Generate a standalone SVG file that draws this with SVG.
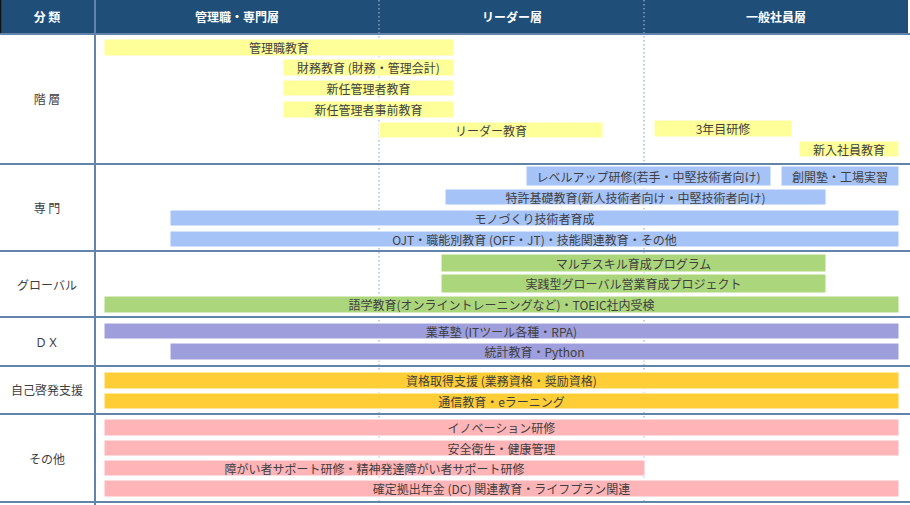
<svg xmlns="http://www.w3.org/2000/svg" width="910" height="505" viewBox="0 0 910 505">
<style>
text{font-family:"Noto Sans CJK JP","Noto Sans",sans-serif;font-size:12px;fill:#3f3f3f;text-anchor:middle;dominant-baseline:central}
.hd{fill:#ffffff;font-weight:bold}
.bar rect{stroke:#ffffff;stroke-width:1}
.y rect{fill:#ffff99}
.b rect{fill:#a6c3f8}
.g rect{fill:#abd67c}
.p rect{fill:#9e9edc}
.o rect{fill:#ffce36}
.k rect{fill:#ffb4b8}
.hl{stroke:#6283aa;stroke-width:2}
.dot{stroke:#9cb0cc;stroke-width:1.2;stroke-dasharray:1.5 2.5}
</style>
<rect width="910" height="505" fill="#ffffff"/>
<g id="header">
<rect x="0" y="0" width="908" height="33" fill="#1f4e79"/>
<line x1="0.5" y1="0" x2="0.5" y2="33" stroke="#111" stroke-width="1.5"/>
<text class="hd" x="47" y="16.5">分 類</text>
<text class="hd" x="237" y="16.5">管理職・専門層</text>
<text class="hd" x="512" y="16.5">リーダー層</text>
<text class="hd" x="776" y="16.5">一般社員層</text>
</g>
<g id="grid">
<line class="dot" x1="379" y1="0" x2="379" y2="503"/>
<line class="dot" x1="644" y1="0" x2="644" y2="503"/>
<line x1="95" y1="0" x2="95" y2="505" stroke="#6283aa" stroke-width="2"/>
<line class="hl" x1="0" y1="34" x2="910" y2="34" stroke-width="1"/>
<line class="hl" x1="0" y1="164" x2="910" y2="164"/>
<line class="hl" x1="0" y1="251" x2="910" y2="251"/>
<line class="hl" x1="0" y1="317" x2="910" y2="317"/>
<line class="hl" x1="0" y1="366" x2="910" y2="366"/>
<line class="hl" x1="0" y1="414" x2="910" y2="414"/>
<line class="hl" x1="0" y1="502" x2="910" y2="502"/>
</g>
<g id="labels">
<text x="47" y="98">階 層</text>
<text x="47" y="207">専 門</text>
<text x="47" y="284">グローバル</text>
<text x="47" y="341">ＤＸ</text>
<text x="47" y="389">自己啓発支援</text>
<text x="47" y="458">その他</text>
</g>
<g id="kaiso" class="bar y">
<g id="n1"><rect x="104" y="39" width="350" height="17"/><text x="279" y="47.5">管理職教育</text></g>
<g id="n2"><rect x="283" y="59" width="171" height="17"/><text x="368.5" y="67.5">財務教育 (財務・管理会計)</text></g>
<g id="n3"><rect x="283" y="80" width="171" height="16"/><text x="368.5" y="88">新任管理者教育</text></g>
<g id="n4"><rect x="283" y="101" width="171" height="17"/><text x="368.5" y="109.5">新任管理者事前教育</text></g>
<g id="n5"><rect x="379" y="122" width="224" height="16"/><text x="491" y="130">リーダー教育</text></g>
<g id="n6"><rect x="654" y="120" width="138" height="17"/><text x="723" y="128.5">3年目研修</text></g>
<g id="n7"><rect x="799" y="141" width="100" height="16"/><text x="849" y="149">新入社員教育</text></g>
</g>
<g id="senmon" class="bar b">
<g id="n8"><rect x="526" y="166" width="245" height="20"/><text x="648.5" y="176">レベルアップ研修(若手・中堅技術者向け)</text></g>
<g id="n9"><rect x="781" y="166" width="118" height="20"/><text x="840" y="176">創開塾・工場実習</text></g>
<g id="n10"><rect x="445" y="189" width="381" height="16"/><text x="635.5" y="197">特許基礎教育(新人技術者向け・中堅技術者向け)</text></g>
<g id="n11"><rect x="170" y="210" width="729" height="16"/><text x="534.5" y="218">モノづくり技術者育成</text></g>
<g id="n12"><rect x="170" y="231" width="729" height="16"/><text x="534.5" y="239">OJT・職能別教育 (OFF・JT)・技能関連教育・その他</text></g>
</g>
<g id="global" class="bar g">
<g id="n13"><rect x="441" y="254" width="385" height="18"/><text x="633.5" y="263">マルチスキル育成プログラム</text></g>
<g id="n14"><rect x="441" y="274" width="385" height="19"/><text x="633.5" y="283.5">実践型グローバル営業育成プロジェクト</text></g>
<g id="n15"><rect x="104" y="296" width="795" height="17"/><text x="501.5" y="304.5">語学教育(オンライントレーニングなど)・TOEIC社内受検</text></g>
</g>
<g id="dx" class="bar p">
<g id="n16"><rect x="104" y="323" width="795" height="16"/><text x="501.5" y="331">業革塾 (ITツール各種・RPA)</text></g>
<g id="n17"><rect x="170" y="343" width="729" height="17"/><text x="534.5" y="351.5">統計教育・Python</text></g>
</g>
<g id="jiko" class="bar o">
<g id="n18"><rect x="104" y="372" width="795" height="17"/><text x="501.5" y="380.5">資格取得支援 (業務資格・奨励資格)</text></g>
<g id="n19"><rect x="104" y="393" width="795" height="16"/><text x="501.5" y="401">通信教育・eラーニング</text></g>
</g>
<g id="sonota" class="bar k">
<g id="n20"><rect x="104" y="419" width="795" height="17"/><text x="501.5" y="427.5">イノベーション研修</text></g>
<g id="n21"><rect x="104" y="440" width="795" height="16"/><text x="501.5" y="448">安全衛生・健康管理</text></g>
<g id="n22"><rect x="104" y="460" width="541" height="16"/><text x="374.5" y="468">障がい者サポート研修・精神発達障がい者サポート研修</text></g>
<g id="n23"><rect x="104" y="480" width="795" height="17"/><text x="501.5" y="488.5">確定拠出年金 (DC) 関連教育・ライフプラン関連</text></g>
</g>
</svg>
